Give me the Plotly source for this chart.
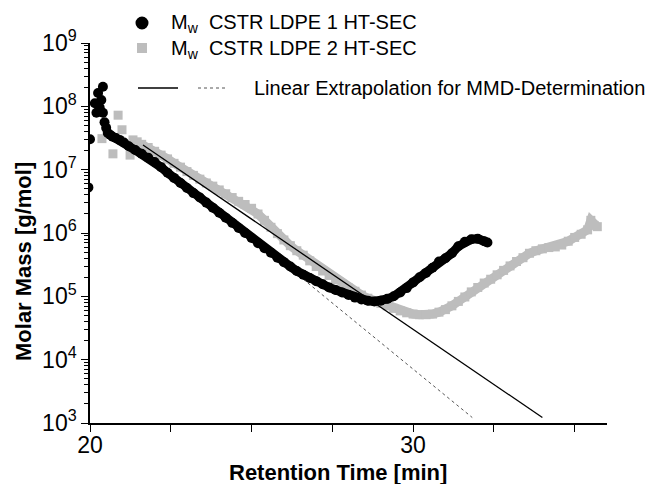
import plotly.graph_objects as go

# ---------------- data ----------------
# Mw CSTR LDPE 1 (black circles): retention time [min], molar mass [g/mol]
t_ldpe1 = [19.95, 20.00, 20.15, 20.20, 20.25, 20.30, 20.35, 20.40, 20.40, 20.45,
           20.50, 20.55, 20.62, 20.70, 20.80, 20.92, 21.05, 21.20, 21.40,
           21.6, 21.8, 22.0, 22.2, 22.4, 22.6, 22.8, 23.0, 23.2, 23.4,
           23.6, 23.8, 24.0, 24.2, 24.4, 24.6, 24.8, 25.0, 25.2, 25.4,
           25.6, 25.8, 26.0, 26.2, 26.4, 26.6, 26.8, 27.0, 27.2, 27.4,
           27.6, 27.8, 28.0, 28.2, 28.4, 28.6, 28.8, 29.0, 29.2, 29.4,
           29.6, 29.8, 30.0, 30.2, 30.4, 30.6, 30.8, 31.0, 31.2, 31.4,
           31.6, 31.8, 32.0, 32.2, 32.3]
logm_ldpe1 = [6.72, 7.48, 8.05, 7.90, 8.21, 7.98, 8.10, 8.31, 7.90, 7.75,
              7.66, 7.58, 7.55, 7.52, 7.50, 7.47, 7.43, 7.37, 7.31,
              7.25, 7.19, 7.12, 7.04, 6.95, 6.87, 6.79, 6.71, 6.63, 6.56,
              6.48, 6.40, 6.32, 6.24, 6.16, 6.08, 6.00, 5.92, 5.84, 5.76,
              5.69, 5.61, 5.54, 5.47, 5.40, 5.34, 5.29, 5.24, 5.19, 5.14,
              5.10, 5.06, 5.02, 4.98, 4.95, 4.93, 4.92, 4.93, 4.96, 5.00,
              5.06, 5.13, 5.22, 5.30, 5.37, 5.45, 5.55, 5.60, 5.68, 5.79,
              5.86, 5.90, 5.91, 5.87, 5.85]
mw_ldpe1 = [10 ** v for v in logm_ldpe1]

# Mw CSTR LDPE 2 (grey squares)
t_ldpe2 = [20.37, 20.71, 20.87, 20.99, 21.24, 21.33, 21.46,
           21.6, 21.8, 22.0, 22.2, 22.4, 22.6, 22.8, 23.0, 23.2, 23.4,
           23.6, 23.8, 24.0, 24.2, 24.4, 24.6, 24.8, 25.0, 25.2, 25.4,
           25.6, 25.8, 26.0, 26.2, 26.4, 26.6, 26.8, 27.0, 27.2, 27.4,
           27.6, 27.8, 28.0, 28.2, 28.4, 28.6, 28.8, 29.0, 29.2, 29.4,
           29.6, 29.8, 30.0, 30.2, 30.4, 30.6, 30.8, 31.0, 31.2, 31.4,
           31.6, 31.8, 32.0, 32.2, 32.4, 32.6, 32.8, 33.0, 33.2, 33.4,
           33.6, 33.8, 34.0, 34.2, 34.4, 34.6, 34.8, 35.0, 35.2, 35.4,
           35.5, 35.6, 35.7]
logm_ldpe2 = [7.49, 7.25, 7.86, 7.63, 7.23, 7.47, 7.44,
              7.40, 7.35, 7.29, 7.23, 7.17, 7.10, 7.04, 6.97, 6.91, 6.85,
              6.79, 6.74, 6.68, 6.62, 6.56, 6.50, 6.45, 6.39, 6.30, 6.20,
              6.09, 5.99, 5.89, 5.80, 5.72, 5.65, 5.56, 5.47, 5.40, 5.33,
              5.26, 5.19, 5.13, 5.08, 5.02, 4.97, 4.93, 4.89, 4.85, 4.81,
              4.77, 4.74, 4.72, 4.71, 4.71, 4.72, 4.75, 4.79, 4.85, 4.92,
              4.99, 5.07, 5.14, 5.21, 5.27, 5.34, 5.41, 5.48, 5.55, 5.61,
              5.68, 5.72, 5.75, 5.77, 5.78, 5.81, 5.87, 5.93, 5.98, 6.05,
              6.20, 6.12, 6.10]
mw_ldpe2 = [10 ** v for v in logm_ldpe2]

# index where each series becomes a continuous band
band_start_1 = 12
band_start_2 = 7

# Linear extrapolations (start / end points)
t_extrap_solid = [21.64, 34.0]
mw_extrap_solid = [2.45e7, 1.22e3]
t_extrap_dot = [22.0, 31.83]
mw_extrap_dot = [1.55e7, 1.22e3]

x_tickvals = [20, 22.5, 25, 27.5, 30, 32.5, 35]
x_ticktext = ["20", "", "", "", "30", "", ""]
y_tickvals = [1e3, 1e4, 1e5, 1e6, 1e7, 1e8, 1e9]
y_ticktext = ["10<sup>3</sup>", "10<sup>4</sup>", "10<sup>5</sup>", "10<sup>6</sup>",
              "10<sup>7</sup>", "10<sup>8</sup>", "10<sup>9</sup>"]
y_minor = [m * 10 ** k for k in range(3, 9) for m in range(2, 10)]

legend_1 = "M<sub>w</sub>  CSTR LDPE 1 HT-SEC"
legend_2 = "M<sub>w</sub>  CSTR LDPE 2 HT-SEC"
legend_3 = "Linear Extrapolation for MMD-Determination"

FONT = "Arial, Liberation Sans, Helvetica, sans-serif"
GREY = "#bdbdbd"

fig = go.Figure()
# grey series: thick band + square markers
fig.add_trace(go.Scatter(x=t_ldpe2[band_start_2:], y=mw_ldpe2[band_start_2:], mode="lines",
                         line=dict(color=GREY, width=9), showlegend=False, hoverinfo="skip"))
fig.add_trace(go.Scatter(x=t_ldpe2, y=mw_ldpe2, mode="markers",
                         marker=dict(symbol="square", size=9, color=GREY),
                         showlegend=False))
fig.add_trace(go.Scatter(x=t_extrap_dot, y=mw_extrap_dot, mode="lines",
                         line=dict(color="#555555", width=1, dash="dot"),
                         showlegend=False))
# black series: thick band + circle markers
fig.add_trace(go.Scatter(x=t_ldpe1[band_start_1:], y=mw_ldpe1[band_start_1:], mode="lines",
                         line=dict(color="black", width=9), showlegend=False, hoverinfo="skip"))
fig.add_trace(go.Scatter(x=t_ldpe1, y=mw_ldpe1, mode="markers",
                         marker=dict(symbol="circle", size=10, color="black"),
                         showlegend=False))
fig.add_trace(go.Scatter(x=t_extrap_solid, y=mw_extrap_solid, mode="lines",
                         line=dict(color="black", width=1.3),
                         showlegend=False))

W, H = 657, 484
L, R, T, B = 90, 50, 43, 61
pw, ph = W - L - R, H - T - B


def px(xp):
    return (xp - L) / pw


def py(yp):
    return (H - B - yp) / ph


shapes = [
    dict(type="circle", xref="paper", yref="paper", xsizemode="pixel", ysizemode="pixel",
         xanchor=px(142), yanchor=py(23), x0=-6.5, x1=6.5, y0=-6.5, y1=6.5,
         fillcolor="black", line=dict(width=0)),
    dict(type="rect", xref="paper", yref="paper", xsizemode="pixel", ysizemode="pixel",
         xanchor=px(142), yanchor=py(48), x0=-5, x1=5, y0=-5, y1=5,
         fillcolor=GREY, line=dict(width=0)),
    dict(type="line", xref="paper", yref="paper", x0=px(138), x1=px(178),
         y0=py(88), y1=py(88), line=dict(color="black", width=1.3)),
    dict(type="line", xref="paper", yref="paper", x0=px(198), x1=px(227),
         y0=py(88), y1=py(88), line=dict(color="#555555", width=1, dash="dot")),
]

annotations = [
    dict(text=legend_1, x=px(169), y=py(24), xref="paper", yref="paper",
         xanchor="left", yanchor="middle", showarrow=False,
         font=dict(family=FONT, size=20, color="black")),
    dict(text=legend_2, x=px(169), y=py(49), xref="paper", yref="paper",
         xanchor="left", yanchor="middle", showarrow=False,
         font=dict(family=FONT, size=20, color="black")),
    dict(text=legend_3, x=px(252), y=py(88), xref="paper", yref="paper",
         xanchor="left", yanchor="middle", showarrow=False,
         font=dict(family=FONT, size=20, color="black")),
    dict(text="<b>Retention Time [min]</b>", x=px(338), y=py(472), xref="paper", yref="paper",
         xanchor="center", yanchor="middle", showarrow=False,
         font=dict(family=FONT, size=22, color="black")),
    dict(text="<b>Molar Mass [g/mol]</b>", x=px(23), y=py(262), xref="paper", yref="paper",
         xanchor="center", yanchor="middle", showarrow=False, textangle=-90,
         font=dict(family=FONT, size=22, color="black")),
]

fig.update_layout(
    width=W, height=H,
    margin=dict(l=L, r=R, t=T, b=B, autoexpand=False),
    paper_bgcolor="white", plot_bgcolor="white",
    showlegend=False,
    shapes=shapes, annotations=annotations,
    font=dict(family=FONT, color="black"),
    xaxis=dict(range=[20, 36], tickmode="array", tickvals=x_tickvals, ticktext=x_ticktext,
               ticks="outside", ticklen=7, tickwidth=1.3, tickcolor="black",
               ticklabelstandoff=-6,
               showline=True, linecolor="black", linewidth=1.5,
               showgrid=False, zeroline=False, automargin=False,
               tickfont=dict(family=FONT, size=23, color="black")),
    yaxis=dict(type="log", range=[3, 9], tickmode="array", tickvals=y_tickvals,
               ticktext=y_ticktext, ticks="outside", ticklen=7, tickwidth=1.3,
               tickcolor="black", showline=True, linecolor="black", linewidth=1.5,
               showgrid=False, zeroline=False, automargin=False,
               minor=dict(tickmode="array", tickvals=y_minor, ticks="outside",
                          ticklen=4, tickwidth=1, tickcolor="black", showgrid=False),
               tickfont=dict(family=FONT, size=23, color="black")),
)

fig.write_html("out.html", config={"displayModeBar": False},
               post_script="document.body.style.margin='0';document.body.style.overflow='hidden';")
